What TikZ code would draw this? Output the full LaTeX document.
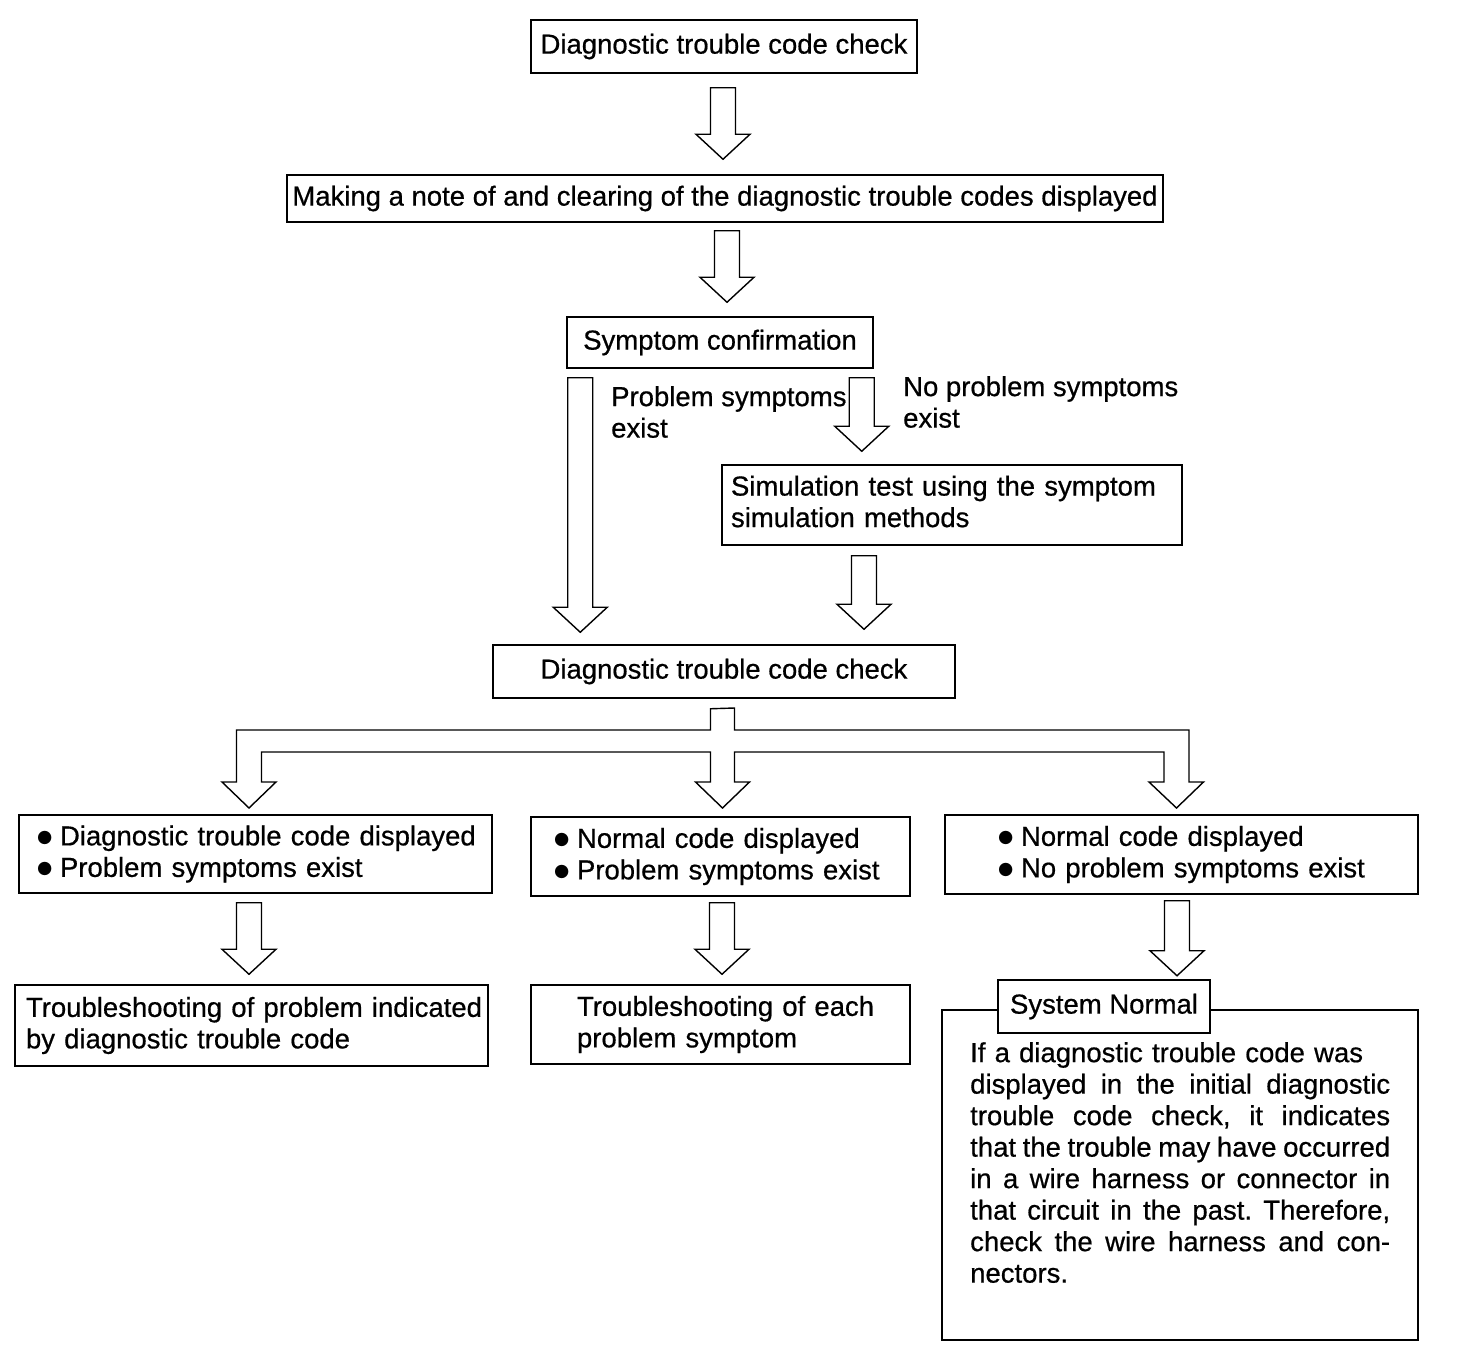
\documentclass[tikz,border=0pt]{standalone}
\usepackage{fontspec}
\setmainfont{Liberation Sans}[UprightFeatures={FakeBold=0.6}]
\newfontfamily\symfont{DejaVu Sans}
\usetikzlibrary{calc,shadows}
\tikzset{
  box/.style={draw, line width=1.5pt, fill=white, inner sep=0pt,
    drop shadow={shadow xshift=1.3pt, shadow yshift=-1.3pt, opacity=1, fill=black}},
  harrowline/.style={draw, line width=1.4pt, line join=miter, fill=white},
  lbl/.style={inner sep=0pt, align=left}
}
\newcommand\harrow[2]{%
  \draw[harrowline] let \p1=#1, \p2=#2 in
    (\x1-12.5pt,\y1) -- (\x1-12.5pt,\y2+25pt) -- (\x1-27pt,\y2+25pt) -- (\x1,\y2)
    -- (\x1+27pt,\y2+25pt) -- (\x1+12.5pt,\y2+25pt) -- (\x1+12.5pt,\y1) -- cycle;}
\newcommand\bul{\makebox[23pt][l]{\raisebox{3pt}{\symfont\fontsize{17.5}{18}\selectfont ●}}}
\newcommand\jl[1]{\makebox[420pt][s]{\spaceskip=0pt\xspaceskip=0pt #1}}
\begin{document}
\begin{tikzpicture}[x=1pt,y=-1pt,font=\fontsize{27.5}{31.5}\selectfont\frenchspacing]
\useasboundingbox (0,0) rectangle (1472,1352);

% boxes
\node[box, minimum width=386pt, minimum height=53pt] (A) at (724,46.5) {Diagnostic trouble code check};
\node[box, minimum width=876pt, minimum height=47pt] (B) at (725,198.5) {Making a note of and clearing of the diagnostic trouble codes displayed};
\node[box, minimum width=306pt, minimum height=51pt] (C) at (720,342.5) {Symptom confirmation};
\node[box, minimum width=460pt, minimum height=80pt, inner xsep=9pt, text width=442pt] (D) at (952,505) {\raisebox{5pt}{\begin{tabular}{@{}l@{}}Simulation test using the symptom\\simulation methods\end{tabular}}};
\node[box, minimum width=462pt, minimum height=53pt] (E) at (724,671.5) {Diagnostic trouble code check};

\node[box, minimum width=473pt, minimum height=78pt, inner xsep=18pt, text width=437pt, align=left] (F1) at (255.5,854) {\mbox{\bul Diagnostic trouble code displayed}\\\mbox{\bul Problem symptoms exist}};
\node[box, minimum width=379pt, minimum height=79pt, inner xsep=23pt, text width=333pt, align=left] (F2) at (720.5,856.5) {\mbox{\bul Normal code displayed}\\\mbox{\bul Problem symptoms exist}};
\node[box, minimum width=473pt, minimum height=79pt, inner xsep=53pt, text width=367pt, align=left] (F3) at (1181.5,854.5) {\mbox{\bul Normal code displayed}\\\mbox{\bul No problem symptoms exist}};

\node[box, minimum width=473pt, minimum height=81pt, inner xsep=11pt, text width=451pt, align=left] (G1) at (251.5,1025.5) {\mbox{Troubleshooting of problem indicated}\\\mbox{by diagnostic trouble code}};
\node[box, minimum width=379pt, minimum height=79pt, inner xsep=46pt, text width=287pt, align=left] (G2) at (720.5,1024.5) {\mbox{Troubleshooting of each}\\\mbox{problem symptom}};

\node[box, minimum width=476pt, minimum height=330pt] (G3) at (1180,1175) {};
\node[box, minimum width=212pt, minimum height=53pt] (T) at (1104,1006.5) {System Normal};
\node[anchor=north west, inner sep=0pt, text width=420pt, align=left] (body) at (970,1042) {%
\mbox{If a diagnostic trouble code was}\\
\jl{displayed in the initial diagnostic}\\
\jl{trouble code check, it indicates}\\
\jl{that the trouble may have occurred}\\
\jl{in a wire harness or connector in}\\
\jl{that circuit in the past. Therefore,}\\
\jl{check the wire harness and con-}\\
\mbox{nectors.}};

% labels
\node[lbl, anchor=west] (l1) at (611,412) {Problem symptoms\\exist};
\node[lbl, anchor=west] (l2) at (903,402) {No problem symptoms\\exist};

% hollow arrows
\harrow{($(A.south)+(-1,14)$)}{($(B.north)+(-2,-15)$)}
\harrow{($(B.south)+(2,8)$)}{($(C.north)+(7,-14)$)}
\harrow{($(C.south west)+(14,9)$)}{($(E.north west)+(88,-12)$)}
\harrow{($(C.south east)+(-12,9)$)}{($(D.north west)+(139,-13)$)}
\harrow{($(D.south)+(-88,10)$)}{($(E.north east)+(-91,-15)$)}
\harrow{($(F1.south)+(-6.5,9)$)}{($(G1.north)+(-2.5,-10)$)}
\harrow{($(F2.south)+(1.5,6)$)}{($(G2.north)+(1.5,-10)$)}
\harrow{($(F3.south)+(-4.5,6)$)}{($(F3.south)+(-4.5,81)$)}

% branching arrow from E to F1, F2, F3
\draw[harrowline] ($(E.south)+(-13.5,10)$) coordinate (bs)
  -- (710.5,730) -- (236.5,730) -- (236.5,782) -- (222,782) -- (249,808) -- (276,782) -- (261.5,782)
  -- (261.5,752) -- (710.5,752) -- (710.5,782) -- (695.5,782) -- (722.5,808) -- (749.5,782) -- (734.5,782)
  -- (734.5,752) -- (1164,752) -- (1164,782) -- (1149,782) -- (1176.5,808) -- (1203.5,782) -- (1189,782)
  -- (1189,730) -- (734.5,730) -- (734.5,708) -- cycle;
\end{tikzpicture}
\end{document}
